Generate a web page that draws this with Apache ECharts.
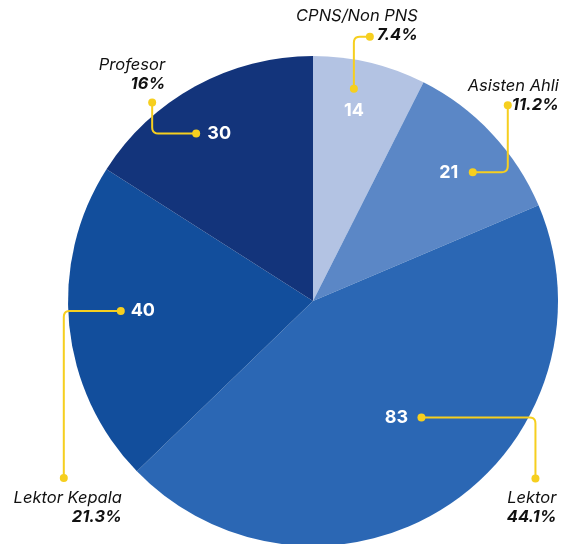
<!DOCTYPE html>
<html>
<head>
<meta charset="utf-8">
<script src="https://cdn.jsdelivr.net/npm/echarts@6/dist/echarts.min.js"></script>
<style>
  html, body { margin: 0; padding: 0; background: #fff; }
  #chart { width: 571px; height: 544px; }
</style>
</head>
<body>
<div id="chart"></div>
<script>
// data
const categories = ['CPNS/Non PNS', 'Asisten Ahli', 'Lektor', 'Lektor Kepala', 'Profesor'];
const values = [14, 21, 83, 40, 30];
const percentLabels = ['7.4%', '11.2%', '44.1%', '21.3%', '16%'];
const colors = ['#b3c3e3', '#5b87c6', '#2b67b4', '#124e9c', '#13347b'];

// layout of the callouts (pixels, relative)
const CX = 313, CY = 301, R = 245;
const valueRadius = [0.79, 0.77, 0.58, 0.69, 0.78];   // where the number sits, fraction of R
const valueNudge = [[-4, -2], [-2, 0], [5, -2], [-2, -7], [-2, 0]];
const startDot = [[0, -22], [24, 0], [25, 0], [-22, 0], [-23, 0]];   // from number
const endDot = [[16, -74], [59, -67], [139, 61], [-79, 167], [-67, -31]]; // from number
const verticalFirst = [true, false, false, false, false];
const textPos = [[48, -21], [51, -19], [21, 20], [58, 20], [13, -37]]; // right edge / name line, from end dot

const YELLOW = '#f6cf1f';
const FONT = 'Inter, "Noto Sans", sans-serif';

let myChart = echarts.init(document.getElementById('chart'));

// elbow with a small rounded corner, as polyline points
function elbow(sx, sy, cx, cy, ex, ey, k) {
  let ax = cx + Math.sign(sx - cx) * k, ay = cy + Math.sign(sy - cy) * k;
  let bx = cx + Math.sign(ex - cx) * k, by = cy + Math.sign(ey - cy) * k;
  let pts = [[sx, sy], [ax, ay]];
  for (let t = 0.2; t < 1; t += 0.2) {
    let u = 1 - t;
    pts.push([u * u * ax + 2 * u * t * cx + t * t * bx, u * u * ay + 2 * u * t * cy + t * t * by]);
  }
  pts.push([bx, by], [ex, ey]);
  return pts;
}

const total = values.reduce((a, b) => a + b, 0);
let graphics = [];
let cum = 0;
values.forEach((v, i) => {
  let theta = 2 * Math.PI * (cum + v / 2) / total;
  cum += v;
  let r = valueRadius[i] * R;
  let ax = CX + r * Math.sin(theta) + valueNudge[i][0];
  let ay = CY - r * Math.cos(theta) + valueNudge[i][1];

  let sx = ax + startDot[i][0], sy = ay + startDot[i][1];
  let ex = ax + endDot[i][0], ey = ay + endDot[i][1];
  let pts = verticalFirst[i] ? elbow(sx, sy, sx, ey, ex, ey, 6) : elbow(sx, sy, ex, sy, ex, ey, 6);
  graphics.push({
    type: 'polyline', z: 100,
    shape: { points: pts },
    style: { stroke: YELLOW, fill: null, lineWidth: 2 }
  });
  graphics.push({ type: 'circle', z: 101, shape: { cx: sx, cy: sy, r: 4 }, style: { fill: YELLOW } });
  graphics.push({ type: 'circle', z: 101, shape: { cx: ex, cy: ey, r: 4 }, style: { fill: YELLOW } });

  graphics.push({
    type: 'text', z: 102, x: ax, y: ay,
    style: {
      text: String(v), fill: '#fff', font: 'bold 18px ' + FONT,
      align: 'center', verticalAlign: 'middle'
    }
  });
  let tx = ex + textPos[i][0], ty = ey + textPos[i][1];
  graphics.push({
    type: 'text', z: 102, x: tx, y: ty,
    style: {
      text: categories[i], fill: '#111', font: 'italic 16.5px ' + FONT,
      align: 'right', verticalAlign: 'middle'
    }
  });
  graphics.push({
    type: 'text', z: 102, x: tx, y: ty + 19,
    style: {
      text: percentLabels[i], fill: '#111', font: 'italic bold 16.5px ' + FONT,
      align: 'right', verticalAlign: 'middle'
    }
  });
});

let option = {
  animation: false,
  series: [
    {
      type: 'pie',
      center: [CX, CY],
      radius: [0, R],
      startAngle: 90,
      clockwise: true,
      label: { show: false },
      labelLine: { show: false },
      itemStyle: { borderWidth: 0 },
      data: categories.map((c, i) => ({
        name: c, value: values[i], itemStyle: { color: colors[i] }
      }))
    }
  ],
  graphic: graphics
};
myChart.setOption(option);
</script>
</body>
</html>
